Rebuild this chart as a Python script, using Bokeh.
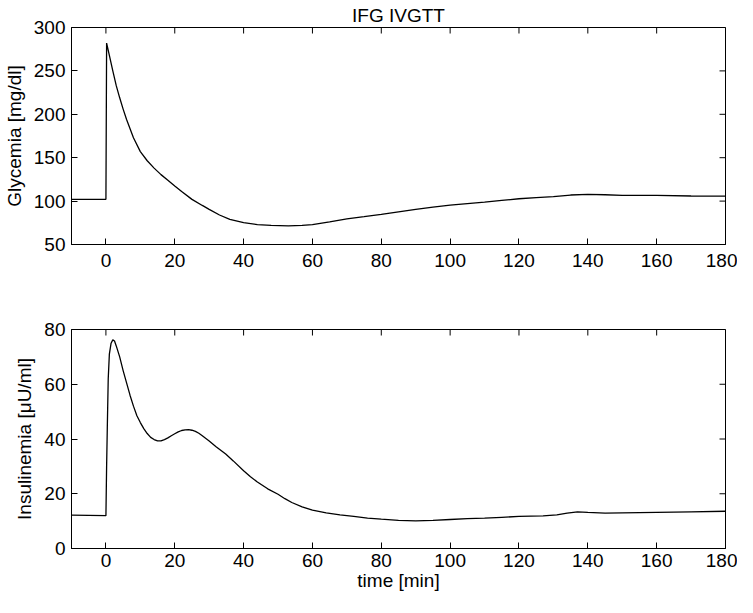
import math
from bokeh.plotting import figure
from bokeh.models import Range1d, FixedTicker
from bokeh.layouts import column
from bokeh.embed import file_html
from bokeh.resources import INLINE

# ---------------- data ----------------
t_glu = [-10, 0, 0.2, 1, 2, 3, 4, 5, 6, 8, 10, 12, 14, 16, 18, 20, 22, 25, 28, 30,
         33, 36, 40, 44, 48, 53, 57, 60, 65, 70, 75, 80, 85, 90, 95, 100, 105, 110,
         115, 120, 125, 130, 135, 140, 145, 150, 155, 160, 170, 180]
glucose = [102, 102, 282, 268, 250, 233, 219, 206, 194, 173, 157, 146.5, 138, 130.5,
           124, 117.3, 111, 102, 95, 90.5, 84, 79, 75.2, 73, 72, 71.4, 72, 73, 76,
           79.5, 82, 84.6, 87.5, 90.4, 93, 95.4, 97.2, 98.8, 100.8, 102.7, 104,
           105.2, 107, 107.7, 107.3, 106.6, 106.5, 106.5, 105.9, 105.8]

t_ins = [-10, 0, 0.2, 0.4, 0.67, 1, 1.5, 2, 2.5, 3, 4, 5, 6, 7, 8, 9, 10, 11, 12, 13,
         14, 15, 16, 17, 18, 19, 20, 21, 22, 23, 24, 25, 26, 27, 28, 30, 32, 34.8, 37,
         40, 42, 44, 47, 50, 52, 54, 57, 60, 64, 68, 72, 76, 80, 85, 90, 95, 100, 105,
         110, 115, 120, 127, 131, 134, 137, 140, 145, 150, 160, 170, 180]
insulin = [12.2, 12, 30, 44, 62, 71, 75, 76.2, 75.8, 74, 70, 65, 60.5, 56, 52, 48.5,
           46, 43.8, 42, 40.6, 39.8, 39.3, 39.3, 39.8, 40.4, 41.2, 41.9, 42.6, 43.1,
           43.3, 43.4, 43.2, 42.8, 42.1, 41.2, 39.3, 37.2, 34.5, 32, 28.4, 26.2, 24.3,
           21.8, 19.8, 18.2, 16.8, 15.2, 14, 13, 12.3, 11.7, 11.1, 10.7, 10.3, 10.1,
           10.3, 10.6, 10.9, 11.1, 11.4, 11.7, 11.9, 12.3, 12.9, 13.4, 13.2, 12.9, 13.0,
           13.2, 13.4, 13.6]

x_ticks = [0, 20, 40, 60, 80, 100, 120, 140, 160, 180]
glu_ticks = [50, 100, 150, 200, 250, 300]
ins_ticks = [0, 20, 40, 60, 80]

title_text = "IFG IVGTT"
glu_label = "Glycemia [mg/dl]"
ins_label = "Insulinemia [\u03bcU/ml]"
x_label = "time [min]"

FONT = "Liberation Sans"
FS = "19px"
W = 737
LEFT = 65
FRAME_W = 660
X0, X1 = -10, 180
TICK = 6


def style_axis(ax, ticks):
    ax.ticker = FixedTicker(ticks=ticks)
    ax.minor_tick_line_color = None
    ax.major_tick_in = TICK
    ax.major_tick_out = 0
    ax.major_tick_line_color = "black"
    ax.axis_line_color = "black"
    ax.axis_line_width = 1
    ax.major_label_text_font = FONT
    ax.major_label_text_color = "black"
    ax.major_label_text_font_size = FS
    ax.axis_label_text_font = FONT
    ax.axis_label_text_font_size = FS
    ax.axis_label_text_font_style = "normal"
    ax.axis_label_text_color = "black"


def make_fig(height, top, bottom, y0, y1, yticks, ylabel, xlabel, t, y,
             xlab_standoff, title=None):
    p = figure(width=W, height=height, output_backend="svg", toolbar_location=None,
               x_range=Range1d(X0, X1), y_range=Range1d(y0, y1),
               min_border_left=LEFT, min_border_right=W - LEFT - FRAME_W,
               min_border_top=top, min_border_bottom=bottom, title=title)
    if title:
        p.title.align = "center"
        p.title.text_font = FONT
        p.title.text_font_size = FS
        p.title.text_font_style = "normal"
        p.title.text_color = "black"
        p.title.standoff = 4
    p.xgrid.visible = False
    p.ygrid.visible = False
    p.outline_line_color = "black"
    p.outline_line_width = 1
    p.background_fill_color = "white"
    p.border_fill_color = "white"
    style_axis(p.xaxis[0], x_ticks)
    p.xaxis[0].major_label_standoff = xlab_standoff
    style_axis(p.yaxis[0], yticks)
    p.yaxis[0].major_label_standoff = 6
    p.yaxis[0].axis_label = ylabel
    p.yaxis[0].axis_label_standoff = 6
    if xlabel:
        p.xaxis[0].axis_label = xlabel
        p.xaxis[0].axis_label_standoff = 0
    # inward ticks on the top and right edges of the box (MATLAB "box on");
    # half of each dash is clipped away by the frame
    p.scatter(x=x_ticks, y=[y1] * len(x_ticks), marker="dash", size=2 * TICK,
              angle=math.pi / 2, line_color="black", line_width=1)
    p.scatter(x=[X1] * len(yticks), y=yticks, marker="dash", size=2 * TICK,
              angle=0, line_color="black", line_width=1)
    p.line(t, y, line_color="black", line_width=1.3)
    return p


p1 = make_fig(290, 26, 46, 50, 300, glu_ticks, glu_label, None, t_glu, glucose,
              9, title=title_text)
p2 = make_fig(307, 39, 49, 0, 80, ins_ticks, ins_label, x_label, t_ins, insulin, 5)

layout = column(p1, p2, spacing=0)
open("out.html", "w").write(file_html(layout, INLINE))
